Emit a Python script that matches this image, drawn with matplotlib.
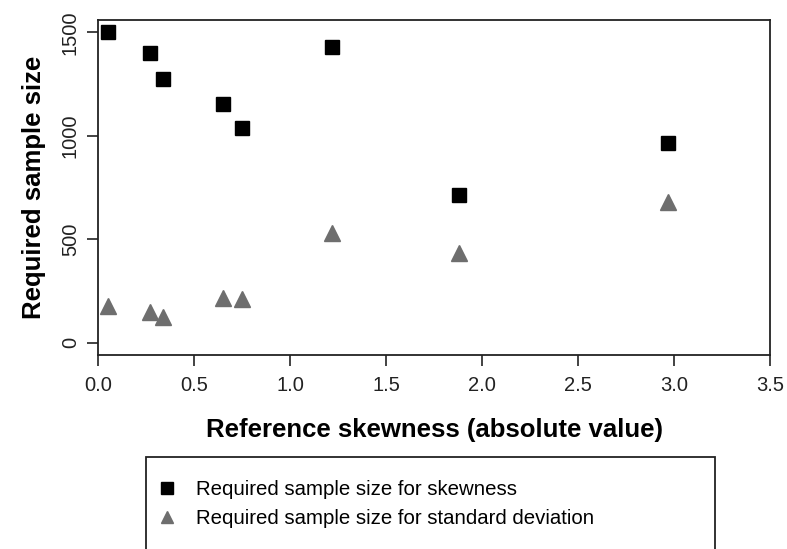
import matplotlib
matplotlib.use("Agg")
import matplotlib.pyplot as plt
from matplotlib.patches import Rectangle

plt.rcParams['font.family'] = ['Liberation Sans', 'DejaVu Sans']

# data
skewness = [0.05, 0.27, 0.34, 0.65, 0.75, 1.22, 1.88, 2.97]
n_skewness = [1500, 1400, 1275, 1155, 1040, 1430, 715, 965]
n_sd = [175, 150, 126, 215, 211, 530, 433, 682]

x_ticks = [0.0, 0.5, 1.0, 1.5, 2.0, 2.5, 3.0, 3.5]
y_ticks = [0, 500, 1000, 1500]

fig = plt.figure(figsize=(7.87, 5.49), dpi=100)
ax = fig.add_axes([98/787, 1-355/549, (770-98)/787, (355-20)/549])

ax.plot(skewness, n_skewness, linestyle='none', marker='s', markersize=10,
        color='black', label='Required sample size for skewness')
ax.plot(skewness, n_sd, linestyle='none', marker='^', markersize=11,
        color='#6e6e6e', label='Required sample size for standard deviation')

ax.set_xlim(0, 3.5)
ax.set_ylim(-60, 1560)
ax.set_xticks(x_ticks)
ax.set_xticklabels(["%.1f" % v for v in x_ticks])
ax.set_yticks(y_ticks)
ax.set_yticklabels([str(v) for v in y_ticks], rotation=90, va='center')
ax.tick_params(axis='both', direction='out', length=8, width=1.2,
               labelsize=14.5, colors='#222222')
ax.tick_params(axis='x', pad=7)
ax.tick_params(axis='y', pad=5)
for s in ax.spines.values():
    s.set_linewidth(1.3)
    s.set_color('#222222')

ax.set_xlabel('Reference skewness (absolute value)', fontsize=18.5,
              fontweight='bold', labelpad=17)
ax.set_ylabel('Required sample size', fontsize=18.5, fontweight='bold',
              labelpad=11)

# legend box, clipped at the bottom of the figure like the reference
fig.patches.append(Rectangle((146/787, -0.05), (715-146)/787, 0.05+1-457/549,
                             transform=fig.transFigure, fill=False,
                             edgecolor='#222222', linewidth=1.3))
fig.legend(loc='upper left', bbox_to_anchor=(159/787, 1-480/549),
           frameon=False, fontsize=14.7, handletextpad=1.0, labelspacing=0.5,
           handlelength=0.8, borderpad=0, borderaxespad=0, markerscale=0.8)

fig.savefig('out.png', dpi=100)
